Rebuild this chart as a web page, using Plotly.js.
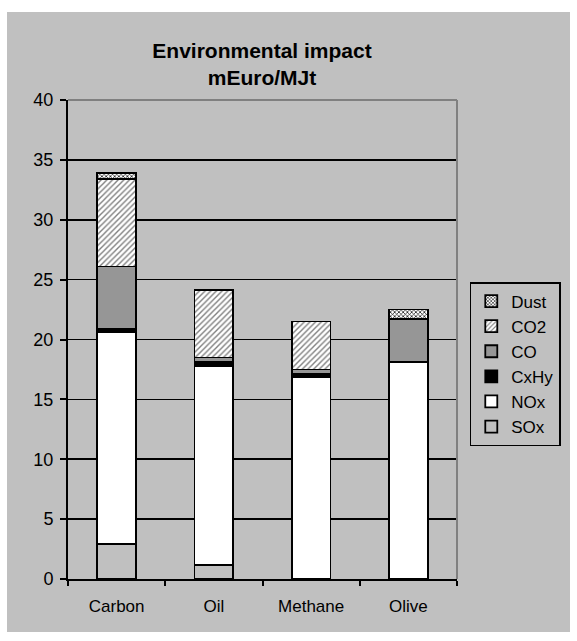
<!DOCTYPE html>
<html>
<head>
<meta charset="utf-8">
<script src="https://cdn.plot.ly/plotly-3.0.1.min.js"></script>
<style>
  html, body { margin: 0; padding: 0; background: #ffffff; }
  #chart { position: absolute; left: 7px; top: 12px; width: 563px; height: 620px; }
</style>
</head>
<body>
<div id="chart"></div>
<script>
const categories = ["Carbon", "Oil", "Methane", "Olive"];
const SOx  = [2.9, 1.2, 0.0, 0.0];
const NOx  = [17.7, 16.6, 16.9, 18.1];
const CxHy = [0.3, 0.3, 0.2, 0.0];
const CO   = [5.2, 0.4, 0.4, 3.6];
const CO2  = [7.3, 5.6, 4.0, 0.0];
const Dust = [0.5, 0.05, 0.0, 0.8];
const yTicks = [0, 5, 10, 15, 20, 25, 30, 35, 40];

const outline = {color: "#000000", width: 1.8};
function bar(name, values, marker, rank) {
  return {
    type: "bar", name: name, x: categories, y: values, legendgroup: name, legendrank: rank,
    marker: Object.assign({line: outline}, marker),
    hoverinfo: "name+y"
  };
}
const traces = [
  bar("SOx", SOx, {color: "#c0c0c0"}, 6),
  bar("NOx", NOx, {color: "#ffffff"}, 5),
  bar("CxHy", CxHy, {color: "#000000"}, 4),
  bar("CO", CO, {color: "#969696"}, 3),
  bar("CO2", CO2, {color: "#ffffff", pattern: {shape: "/", fgcolor: "#808080", bgcolor: "#ffffff", size: 4, solidity: 0.35}}, 2),
  bar("Dust", Dust, {color: "#ffffff", pattern: {shape: "x", fgcolor: "#000000", bgcolor: "#ffffff", size: 3, solidity: 0.4}}, 1)
];

const layout = {
  width: 563, height: 620,
  paper_bgcolor: "#c0c0c0", plot_bgcolor: "#c0c0c0",
  margin: {l: 61, r: 113, t: 88, b: 53},
  font: {family: "Liberation Sans, Arial, sans-serif", size: 17, color: "#000000"},
  title: {
    text: "<b>Environmental impact<br>mEuro/MJt</b>",
    font: {family: "Liberation Sans, Arial, sans-serif", size: 21, color: "#000000"},
    x: 0.453, xanchor: "center", xref: "container",
    y: 0.926, yanchor: "top", yref: "container"
  },
  barmode: "stack",
  bargap: 0.6,
  showlegend: true,
  legend: {
    traceorder: "grouped", tracegroupgap: 0,
    xref: "container", yref: "container",
    x: 0.822, xanchor: "left", y: 0.5645, yanchor: "top",
    bgcolor: "#c0c0c0", bordercolor: "#000000", borderwidth: 1.5,
    font: {size: 17}, itemwidth: 30
  },
  xaxis: {
    type: "category",
    showline: true, linecolor: "#000000", linewidth: 2,
    ticks: "outside", tickson: "boundaries", ticklen: 5, tickcolor: "#000000", tickwidth: 2,
    showgrid: false, zeroline: false,
    tickfont: {size: 17}, ticklabelstandoff: 11
  },
  yaxis: {
    range: [0, 40], tickvals: yTicks, ticktext: yTicks.map(String),
    showline: true, linecolor: "#000000", linewidth: 2,
    ticks: "outside", ticklen: 6, tickcolor: "#000000", tickwidth: 2,
    showgrid: true, gridcolor: "#000000", gridwidth: 1.6,
    zeroline: false, tickfont: {size: 18}, ticklabelstandoff: 3
  },
  shapes: [
    {type: "line", xref: "paper", yref: "paper", x0: 0, x1: 1, y0: 1, y1: 1, line: {color: "#808080", width: 2}},
    {type: "line", xref: "paper", yref: "paper", x0: 1, x1: 1, y0: 0, y1: 1, line: {color: "#808080", width: 2}}
  ]
};

Plotly.newPlot("chart", traces, layout, {displayModeBar: false, staticPlot: true});
</script>
</body>
</html>
